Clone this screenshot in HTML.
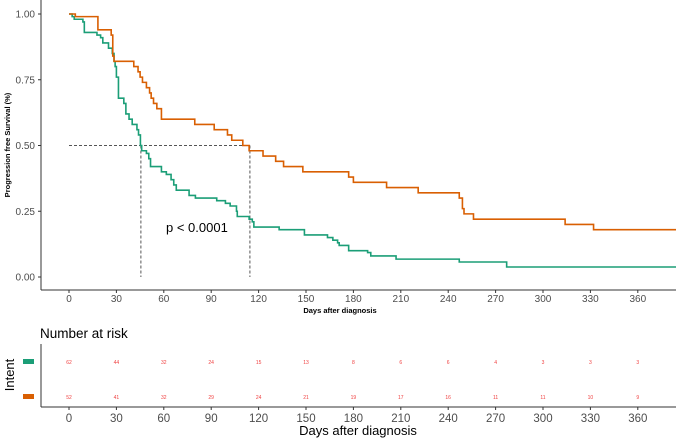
<!DOCTYPE html>
<html><head><meta charset="utf-8"><style>
body{margin:0;background:#fff;}
svg{display:block;font-family:"Liberation Sans",sans-serif;}
</style></head><body>
<svg id="c" width="676" height="438" viewBox="0 0 676 438"></svg>
<script>
const timeTicks=[0,30,60,90,120,150,180,210,240,270,300,330,360];
const survTicks=[0,0.25,0.5,0.75,1];
const survTickLabels=["0.00","0.25","0.50","0.75","1.00"];
const greenTimes=[0,2,3.3,8.8,9.7,17.7,20,21.4,25,27.4,28.5,29.2,30,31.3,34.7,36,38,40,43,44,45.2,46,49,50.5,51.6,58.5,61.6,64.6,66.3,67.9,76,80,93.5,99,102,106,106.5,114,116,117,133,149,163.6,167,170,171,177,189,191,207,247,277,395];
const greenSurv=[1,0.99,0.98,0.97,0.93,0.92,0.91,0.89,0.87,0.85,0.82,0.80,0.76,0.68,0.66,0.62,0.60,0.58,0.56,0.54,0.50,0.48,0.47,0.45,0.42,0.40,0.39,0.37,0.35,0.33,0.31,0.30,0.29,0.28,0.27,0.25,0.23,0.22,0.21,0.19,0.18,0.16,0.15,0.14,0.13,0.12,0.10,0.093,0.08,0.068,0.057,0.038,0.038];
const orangeTimes=[0,4,18.3,26.7,27.7,28.5,41,43.7,45,46.5,49,51,52,53.5,55.6,58.5,79.6,91.9,100.3,103,110,114,122.8,130.8,135.8,148,177,180,201,221,247,249,250,256,314,332,395];
const orangeSurv=[1,0.99,0.94,0.92,0.84,0.82,0.80,0.78,0.76,0.74,0.72,0.70,0.68,0.66,0.64,0.60,0.58,0.56,0.54,0.52,0.50,0.48,0.46,0.44,0.42,0.40,0.38,0.36,0.34,0.32,0.30,0.26,0.24,0.22,0.20,0.18,0.18];
const riskGreen=[62,44,32,24,15,13,8,6,6,4,3,3,3];
const riskOrange=[52,41,32,29,24,21,19,17,16,11,11,10,9];
const medianGreen=45.5, medianOrange=114.5;

const NS="http://www.w3.org/2000/svg";
const svg=document.getElementById('c');
function xs(t){return 69+t*1.58;}
function ys(s){return 277-s*263;}
function mk(tag,attrs,parent){const e=document.createElementNS(NS,tag);for(const k in attrs)e.setAttribute(k,attrs[k]);(parent||svg).appendChild(e);return e;}
function txt(str,attrs){const e=mk('text',attrs);e.textContent=str;return e;}

let a=mk('line',{x1:41,y1:0,x2:41,y2:290,stroke:'#333','stroke-width':1});


a=mk('line',{x1:41,y1:290,x2:676,y2:290,stroke:'#333','stroke-width':1});


survTicks.forEach((s,i)=>{
  mk('line',{x1:38,x2:41,y1:ys(s),y2:ys(s),stroke:'#333'});
  const t=txt(survTickLabels[i],{x:35,y:ys(s)+3.5,'text-anchor':'end','font-size':10,fill:'#4d4d4d'});
  
  
});
timeTicks.forEach(t=>{
  mk('line',{x1:xs(t),x2:xs(t),y1:290,y2:293,stroke:'#333'});
  const e=txt(String(t),{x:xs(t),y:302,'text-anchor':'middle','font-size':10,fill:'#4d4d4d'});
  
  
});
let yt=txt('Progression free Survival (%)',{x:0,y:0,transform:'translate(10,145) rotate(-90)','text-anchor':'middle','font-size':7.5,'font-weight':'bold',fill:'#000'});


let xt=txt('Days after diagnosis',{x:340,y:313,'text-anchor':'middle','font-size':7.5,'font-weight':'bold',fill:'#000'});



let d=mk('path',{d:`M${xs(0)},${ys(0.5)}H${xs(medianOrange)}M${xs(medianGreen)},${ys(0.5)}V${ys(0)}M${xs(medianOrange)},${ys(0.5)}V${ys(0)}`,stroke:'#555','stroke-dasharray':'3,2',fill:'none','stroke-width':1});



function stepPath(ts,ss){let p=`M${xs(ts[0])},${ys(ss[0])}`;for(let i=1;i<ts.length;i++){p+=`H${xs(ts[i])}V${ys(ss[i])}`;}return p;}
let g=mk('path',{d:stepPath(greenTimes,greenSurv),stroke:'#1b9e77','stroke-width':1.6,fill:'none'});


let o=mk('path',{d:stepPath(orangeTimes,orangeSurv),stroke:'#d95f02','stroke-width':1.6,fill:'none'});



let pv=txt('p < 0.0001',{x:166,y:232,'font-size':13,fill:'#000'});



let nt=txt('Number at risk',{x:40,y:338,'font-size':13.5,fill:'#000'});


a=mk('line',{x1:41,y1:344,x2:41,y2:407,stroke:'#333'});


a=mk('line',{x1:41,y1:407,x2:676,y2:407,stroke:'#333'});


let it=txt('Intent',{x:0,y:0,transform:'translate(14,375) rotate(-90)','text-anchor':'middle','font-size':13,fill:'#000'});


let sw=mk('rect',{x:23,y:359,width:11,height:5,fill:'#1b9e77'});


sw=mk('rect',{x:23,y:394,width:11,height:5,fill:'#d95f02'});


timeTicks.forEach((t,i)=>{
  mk('line',{x1:xs(t),x2:xs(t),y1:407,y2:410,stroke:'#333'});
  const e=txt(String(t),{x:xs(t),y:422,'text-anchor':'middle','font-size':11.5,fill:'#4d4d4d'});
  
  
  const r1=txt(String(riskGreen[i]),{x:xs(t),y:364,'text-anchor':'middle','font-size':5,fill:'#f04040'});
  
  
  const r2=txt(String(riskOrange[i]),{x:xs(t),y:399,'text-anchor':'middle','font-size':5,fill:'#f04040'});
  
  
});
let rt=txt('Days after diagnosis',{x:358,y:435,'text-anchor':'middle','font-size':13,fill:'#000'});


</script>
</body></html>
